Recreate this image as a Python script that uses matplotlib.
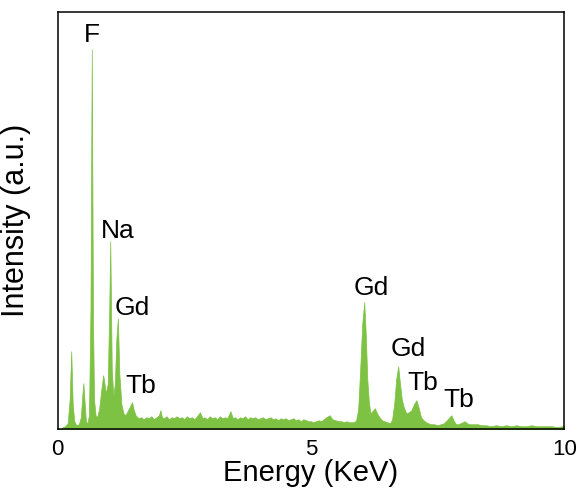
import matplotlib
matplotlib.use('Agg')
import matplotlib.pyplot as plt

plt.rcParams['font.family'] = ['Liberation Sans', 'DejaVu Sans']

# EDS spectrum (energy in keV, intensity in arbitrary units)
energy = [0.00, 0.08, 0.10, 0.15, 0.20, 0.24, 0.27, 0.30, 0.33, 0.37, 0.42, 0.46, 0.49, 0.51, 0.53,
          0.56, 0.59, 0.62, 0.65, 0.675, 0.70, 0.72, 0.75, 0.78, 0.82, 0.86, 0.90, 0.92, 0.95, 0.99,
          1.02, 1.04, 1.07, 1.10, 1.13, 1.16, 1.19, 1.22, 1.26, 1.30, 1.34, 1.38, 1.42, 1.47, 1.50,
          1.54, 1.60, 1.65, 1.70, 1.75, 1.80, 1.85, 1.90, 1.95, 2.00, 2.03, 2.06, 2.10, 2.15, 2.20,
          2.25, 2.30, 2.35, 2.40, 2.45, 2.50, 2.55, 2.60, 2.65, 2.70, 2.75, 2.81, 2.86, 2.90, 2.95,
          3.00, 3.05, 3.10, 3.15, 3.20, 3.25, 3.30, 3.35, 3.41, 3.46, 3.50, 3.55, 3.60, 3.65, 3.70,
          3.75, 3.80, 3.85, 3.90, 3.95, 4.00, 4.05, 4.10, 4.15, 4.20, 4.25, 4.30, 4.35, 4.40, 4.45,
          4.50, 4.55, 4.60, 4.65, 4.70, 4.75, 4.80, 4.85, 4.90, 4.95, 5.00, 5.04, 5.10, 5.15, 5.20,
          5.25, 5.30, 5.37, 5.42, 5.48, 5.55, 5.60, 5.65, 5.70, 5.75, 5.80, 5.85, 5.89, 5.93, 5.97,
          6.01, 6.05, 6.08, 6.11, 6.14, 6.17, 6.21, 6.26, 6.30, 6.35, 6.40, 6.45, 6.50, 6.56, 6.60,
          6.64, 6.68, 6.72, 6.75, 6.79, 6.83, 6.88, 6.93, 6.98, 7.03, 7.08, 7.12, 7.17, 7.22, 7.27,
          7.31, 7.37, 7.43, 7.50, 7.56, 7.62, 7.68, 7.73, 7.77, 7.81, 7.86, 7.90, 7.95, 8.03, 8.08,
          8.12, 8.20, 8.29, 8.35, 8.45, 8.55, 8.65, 8.75, 8.85, 8.95, 9.05, 9.15, 9.25, 9.35, 9.45,
          9.55, 9.65, 9.75, 9.85, 9.95, 10.0]
intensity = [0, 0, 2, 3, 6, 30, 78, 25, 8, 4, 5, 12, 35, 46, 30,
             8, 6, 14, 120, 380, 110, 30, 14, 12, 20, 38, 54, 48, 36, 45,
             120, 188, 60, 33, 45, 90, 111, 55, 25, 16, 14, 18, 22, 27, 20,
             14, 11, 12, 10, 12, 11, 13, 10, 12, 14, 19, 12, 11, 13, 10,
             12, 11, 13, 11, 12, 10, 13, 11, 12, 10, 13, 17, 11, 12, 10,
             13, 11, 12, 10, 13, 11, 12, 11, 18, 11, 12, 10, 12, 11, 13,
             10, 12, 11, 12, 10, 11, 12, 10, 11, 12, 10, 11, 9, 11, 10,
             11, 9, 10, 11, 9, 10, 8, 10, 9, 8, 8, 7, 8, 9, 8,
             10, 12, 14, 10, 9, 8, 8, 7, 8, 7, 7, 7, 9, 20, 60,
             105, 127, 95, 50, 28, 16, 18, 21, 16, 12, 9, 8, 7, 6, 10,
             25, 50, 63, 48, 30, 22, 16, 17, 19, 25, 29, 22, 12, 9, 7,
             6, 5, 5, 4, 5, 6, 9, 12, 14, 9, 5, 5, 6, 8, 6,
             5, 5, 5, 4, 4, 3, 4, 3, 4, 3, 4, 3, 3, 4, 3,
             3, 3, 3, 2, 3, 3]

peak_names = ['F', 'Na', 'Gd', 'Tb', 'Gd', 'Gd', 'Tb', 'Tb']
label_x = [0.675, 1.19, 1.48, 1.64, 6.18, 6.91, 7.20, 7.92]
label_y = [387, 191, 114, 36, 134, 73, 39, 22]

fig = plt.figure(figsize=(5.81, 4.90), dpi=100)
ax = fig.add_axes([0.099, 0.124, 0.8726, 0.852])

ax.fill_between(energy, 0, intensity, color='#7dc242', linewidth=0.5, edgecolor='#7dc242')

for name, x, y in zip(peak_names, label_x, label_y):
    ax.text(x, y, name, ha='center', va='baseline', fontsize=19, color='black')

ax.set_xlim(0, 10)
ax.set_ylim(0, 417.5)
ax.set_xticks([0, 5, 10])
ax.set_xticklabels(['0', '5', '10'])
ax.set_yticks([])
ax.tick_params(axis='x', length=0, pad=7, labelsize=16)
for s in ax.spines.values():
    s.set_linewidth(1.1)
    s.set_color('black')

ax.set_xlabel('Energy (KeV)', fontsize=21, labelpad=-1)
ax.set_ylabel('Intensity (a.u.)', fontsize=22, labelpad=19)

fig.savefig('out.png', dpi=100)
